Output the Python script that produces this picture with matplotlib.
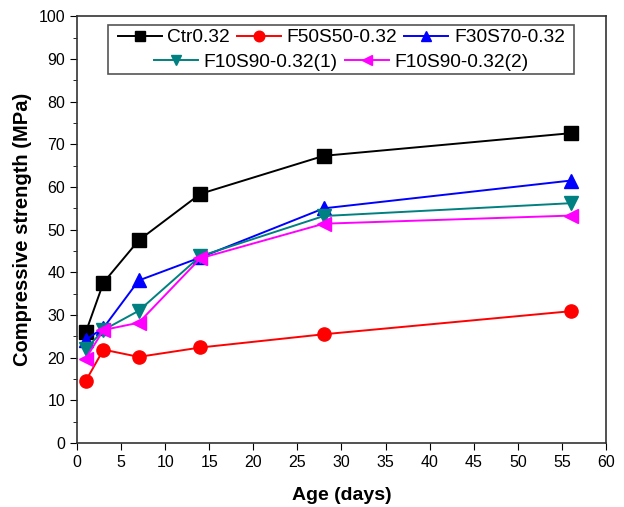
import numpy as np
import matplotlib
matplotlib.use('Agg')
import matplotlib.pyplot as plt
from matplotlib.patches import Rectangle

plt.rcParams['font.family'] = ['Liberation Sans', 'DejaVu Sans']

# curing age (days)
age = [1, 3, 7, 14, 28, 56]

# compressive strength (MPa)
ctr = [26.0, 37.6, 47.5, 58.4, 67.3, 72.6]
f50s50 = [14.6, 21.9, 20.2, 22.4, 25.5, 30.9]
f30s70 = [24.2, 27.0, 38.1, 43.5, 55.0, 61.5]
f10s90_1 = [22.0, 26.5, 31.0, 43.8, 53.2, 56.2]
f10s90_2 = [19.8, 26.5, 28.2, 43.3, 51.4, 53.3]

labels = ['Ctr0.32', 'F50S50-0.32', 'F30S70-0.32', 'F10S90-0.32(1)', 'F10S90-0.32(2)']
series = [ctr, f50s50, f30s70, f10s90_1, f10s90_2]
colors = ['black', '#ff0000', '#0000ff', '#008080', '#ff00ff']
markers = ['s', 'o', '^', 'v', '<']

fig = plt.figure(figsize=(6.24, 5.07), dpi=100)
ax = fig.add_axes([0.1234, 0.126, 0.8477, 0.842])

handles = []
for vals, lab, c, m in zip(series, labels, colors, markers):
    h, = ax.plot(age, vals, color=c, marker=m, markersize=9.5, lw=1.4, label=lab)
    handles.append(h)

ax.set_xlim(0, 60)
ax.set_ylim(0, 100)
ax.set_xticks(np.arange(0, 61, 5))
ax.set_yticks(np.arange(0, 101, 10))
ax.set_yticks(np.arange(0, 101, 5), minor=True)
ax.tick_params(axis='both', which='major', direction='out', length=5, labelsize=11.5)
ax.tick_params(axis='y', which='minor', direction='out', length=3)
for sp in ax.spines.values():
    sp.set_linewidth(1.2)
    sp.set_color('#333333')

ax.set_xlabel('Age (days)', fontsize=14, fontweight='bold', labelpad=12)
ax.set_ylabel('Compressive strength (MPa)', fontsize=14.5, fontweight='bold', labelpad=5)

# two-row legend, second row centred
kw = dict(frameon=False, fontsize=13.8, handlelength=2.3, handletextpad=0.3,
          columnspacing=0.35, borderpad=0.1, markerscale=0.8, loc='center')
fig.legend(handles[:3], labels[:3], ncol=3, bbox_to_anchor=(0.547, 0.926), **kw)
fig.legend(handles[3:], labels[3:], ncol=2, bbox_to_anchor=(0.547, 0.877), **kw)
fig.patches.append(Rectangle((0.173, 0.854), 0.747, 0.097, transform=fig.transFigure,
                             fill=False, edgecolor='#555555', lw=1.2))

plt.savefig('out.png', dpi=100)
